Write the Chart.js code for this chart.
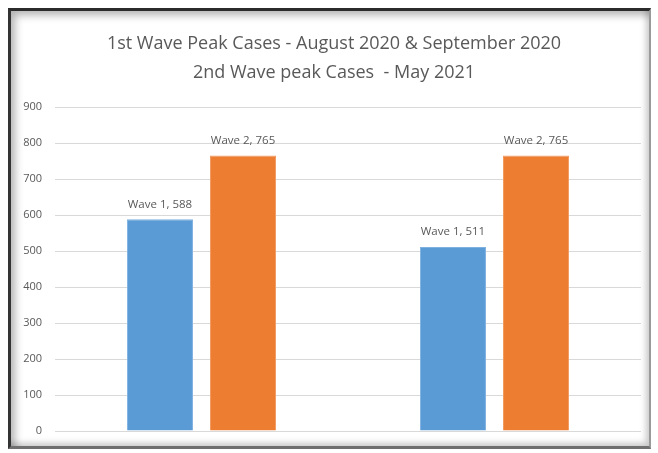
<!DOCTYPE html>
<html>
<head>
<meta charset="utf-8">
<script src="https://cdn.jsdelivr.net/npm/chart.js@4"></script>
<style>
  html, body { margin: 0; padding: 0; background: #fff; }
  #wrap { position: relative; width: 658px; height: 453px; }
  #frame {
    position: absolute; left: 8px; top: 8px; width: 638px; height: 435px;
    border-top: 3px solid #2b2b2b; border-left: 3px solid #333;
    border-right: 2px solid #9a9a9a; border-bottom: 3px solid #6f6f6f;
    box-shadow: inset 6px 6px 8px -2px rgba(0,0,0,0.3), inset -5px -5px 6px -2px rgba(0,0,0,0.22);
    pointer-events: none;
  }
</style>
</head>
<body>
<div id="wrap">
  <canvas id="grafico" width="658" height="453"></canvas>
  <div id="frame"></div>
</div>
<script>
// datos
const categorias = ['Ola 1', 'Ola 2'];
const nombresSeries = ['Wave 1', 'Wave 2'];
const wave1 = [588, 511];
const wave2 = [765, 765];
const ticksY = [0, 100, 200, 300, 400, 500, 600, 700, 800, 900];
const titulo = ['1st Wave Peak Cases - August 2020 & September 2020', '2nd Wave peak Cases  - May 2021'];

const fuente = "'Open Sans', 'Noto Sans', sans-serif";
const gris = '#595959';

// titulo de dos lineas, un poco corrido a la derecha como en el original
const tituloPlugin = {
  id: 'tituloPlugin',
  afterDraw(chart) {
    const ctx = chart.ctx;
    ctx.save();
    ctx.font = '18px ' + fuente;
    ctx.fillStyle = gris;
    ctx.textAlign = 'center';
    ctx.textBaseline = 'middle';
    titulo.forEach((linea, i) => ctx.fillText(linea, 334, 44 + i * 29));
    ctx.restore();
  }
};

// etiquetas "Wave 1, 588" encima de cada barra
const etiquetasBarras = {
  id: 'etiquetasBarras',
  afterDatasetsDraw(chart) {
    const ctx = chart.ctx;
    ctx.save();
    ctx.font = '11.5px ' + fuente;
    ctx.fillStyle = gris;
    ctx.textAlign = 'center';
    ctx.textBaseline = 'middle';
    chart.data.datasets.forEach((ds, i) => {
      chart.getDatasetMeta(i).data.forEach((bar, j) => {
        ctx.fillText(ds.label + ', ' + ds.data[j], bar.x, bar.y - 15);
      });
    });
    ctx.restore();
  }
};

new Chart(document.getElementById('grafico'), {
  type: 'bar',
  data: {
    labels: categorias,
    datasets: [
      { label: nombresSeries[0], data: wave1, backgroundColor: '#5B9BD5', borderColor: '#7FB1E0', borderWidth: 1 },
      { label: nombresSeries[1], data: wave2, backgroundColor: '#ED7D31', borderColor: '#F29A60', borderWidth: 1 }
    ]
  },
  options: {
    responsive: false,
    animation: false,
    categoryPercentage: 0.567,
    barPercentage: 0.795,
    layout: { padding: { left: 0, right: 17, top: 107, bottom: 22 } },
    plugins: {
      legend: { display: false },
      tooltip: { enabled: false },
      title: { display: false }
    },
    scales: {
      x: { display: false },
      y: {
        min: 0,
        max: 900,
        afterBuildTicks(scale) { scale.ticks = ticksY.map(v => ({ value: v })); },
        afterFit(scale) { scale.width = 55; },
        border: { display: false },
        grid: { color: '#d9d9d9', drawTicks: false },
        ticks: { color: gris, padding: 13, font: { family: fuente, size: 11 } }
      }
    }
  },
  plugins: [etiquetasBarras, tituloPlugin]
});
</script>
</body>
</html>
